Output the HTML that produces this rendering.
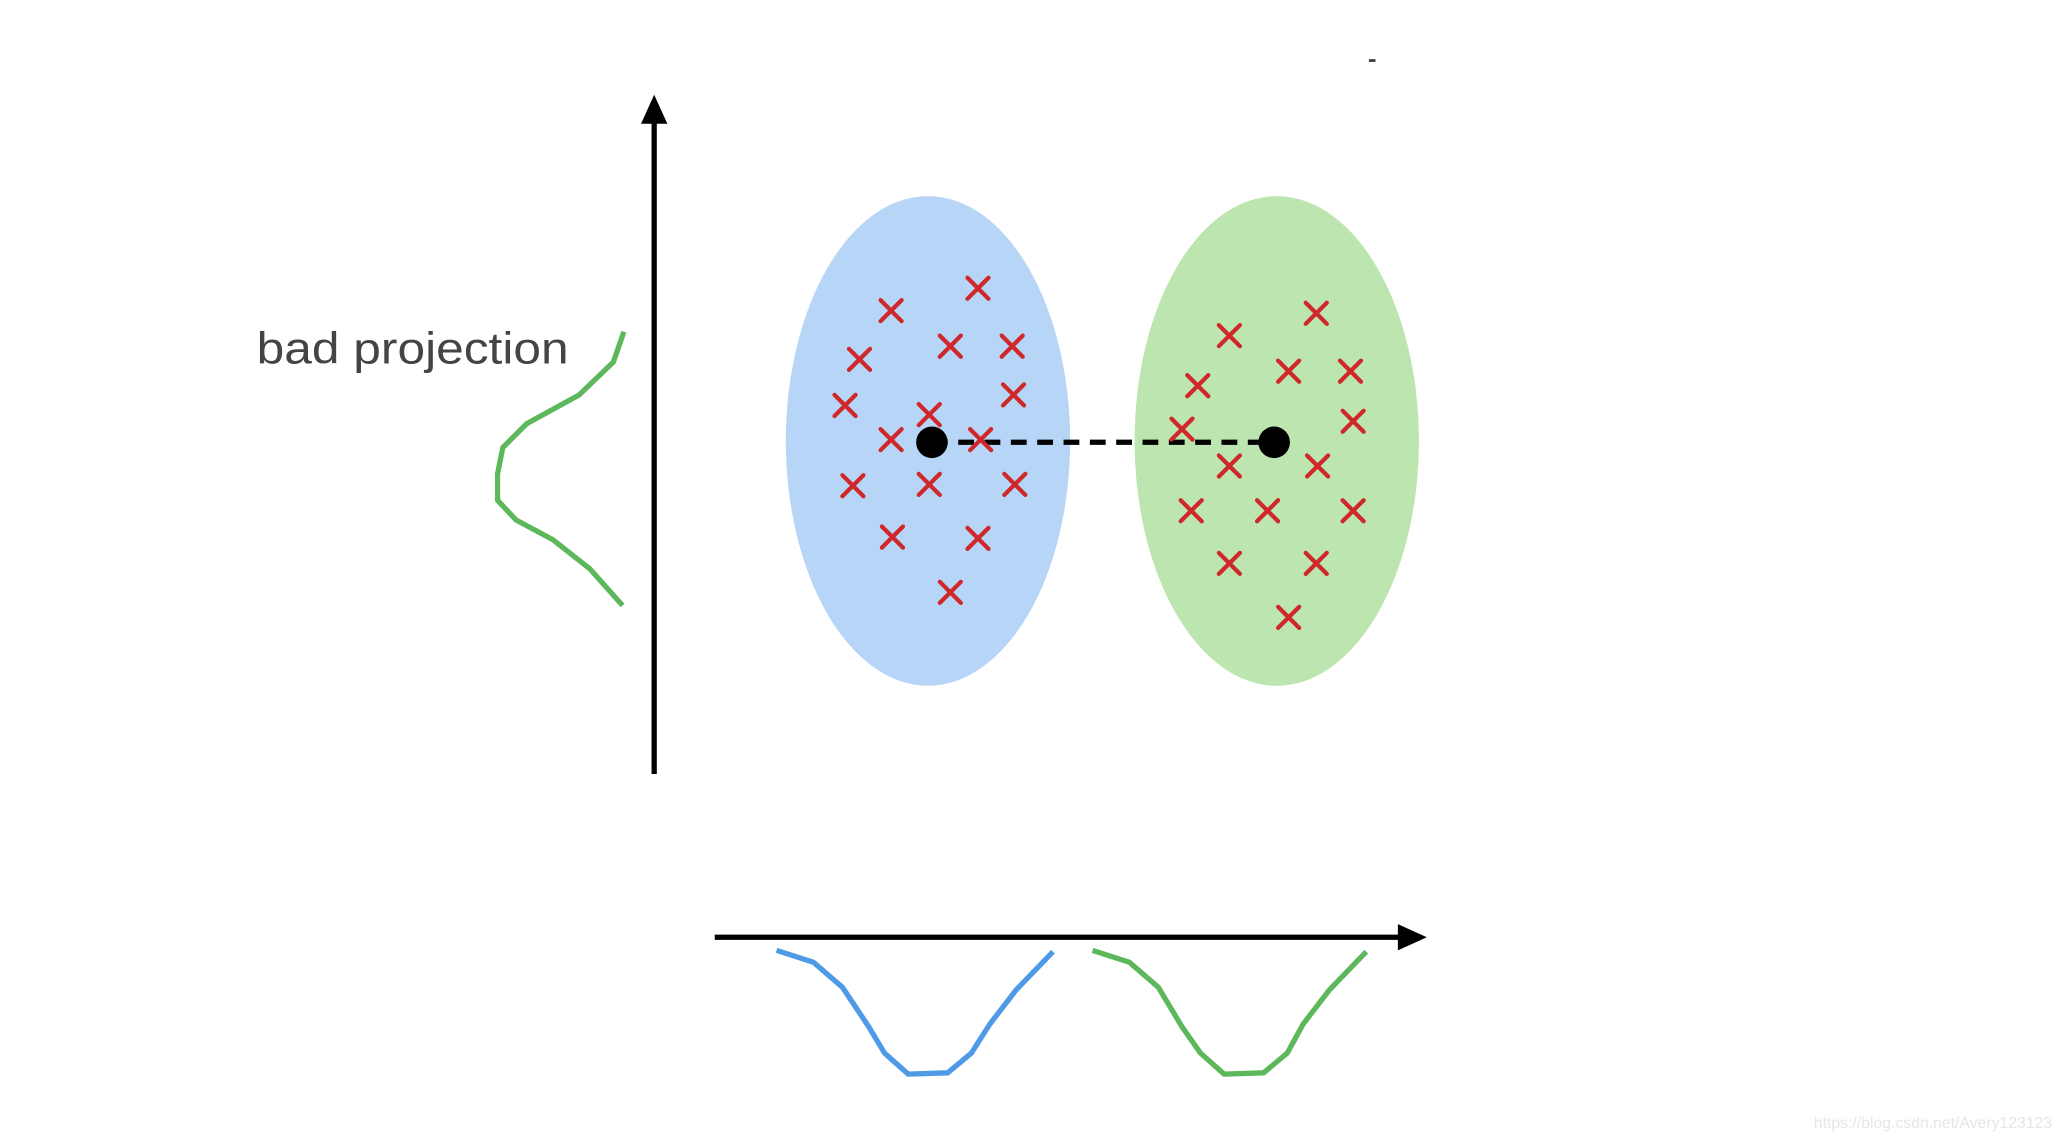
<!DOCTYPE html>
<html><head><meta charset="utf-8"><style>
html,body{margin:0;padding:0;background:#fff;}
svg{display:block;}
</style></head><body>
<svg width="2056" height="1136" viewBox="0 0 1562 863" preserveAspectRatio="none" xmlns="http://www.w3.org/2000/svg">
<defs>
<g id="x"><path d="M-8,-8 L8,8 M8,-8 L-8,8" stroke="#d0282a" stroke-width="3.2" stroke-linecap="round"/></g>
</defs>
<rect width="1562" height="863" fill="#fff"/>
<ellipse cx="705" cy="335" rx="108" ry="186" fill="#b7d5f7"/>
<ellipse cx="970" cy="335" rx="108" ry="186" fill="#bde5b0"/>
<line x1="497" y1="90" x2="497" y2="588" stroke="#000" stroke-width="4"/>
<polygon points="497,72 487,94 507,94" fill="#000"/>
<line x1="543" y1="712" x2="1065" y2="712" stroke="#000" stroke-width="4"/>
<polygon points="1084,712 1062,702 1062,722" fill="#000"/>
<line x1="708" y1="336" x2="968" y2="336" stroke="#000" stroke-width="4" stroke-dasharray="12,8"/>
<g>
<use href="#x" x="677" y="236"/><use href="#x" x="743" y="219"/><use href="#x" x="653" y="273"/><use href="#x" x="722" y="263"/><use href="#x" x="769" y="263"/><use href="#x" x="642" y="308"/><use href="#x" x="770" y="300"/><use href="#x" x="706" y="315"/><use href="#x" x="677" y="334"/><use href="#x" x="745" y="334"/><use href="#x" x="648" y="369"/><use href="#x" x="706" y="368"/><use href="#x" x="771" y="368"/><use href="#x" x="678" y="408"/><use href="#x" x="743" y="409"/><use href="#x" x="722" y="450"/>
<use href="#x" x="934" y="255"/><use href="#x" x="1000" y="238"/><use href="#x" x="910" y="293"/><use href="#x" x="979" y="282"/><use href="#x" x="1026" y="282"/><use href="#x" x="898" y="326"/><use href="#x" x="1028" y="320"/><use href="#x" x="934" y="354"/><use href="#x" x="1001" y="354"/><use href="#x" x="905" y="388"/><use href="#x" x="963" y="388"/><use href="#x" x="1028" y="388"/><use href="#x" x="934" y="428"/><use href="#x" x="1000" y="428"/><use href="#x" x="979" y="469"/>
</g>
<circle cx="708" cy="336" r="12" fill="#000"/>
<circle cx="968" cy="336" r="12" fill="#000"/>
<polyline points="474,252 466,275 440,300 400,322 382,340 378,360 378,380 392,395 420,410 448,432 473,460" fill="none" stroke="#5cb85a" stroke-width="4" stroke-linejoin="round"/>
<polyline points="590,722 618,731 640,750 660,780 672,800 690,816 720,815 738,800 752,778 772,752 800,723" fill="none" stroke="#4e9ae6" stroke-width="4" stroke-linejoin="round"/>
<polyline points="830,722 858,731 880,750 898,780 912,800 930,816 960,815 978,800 990,778 1010,752 1038,723" fill="none" stroke="#5cb85a" stroke-width="4" stroke-linejoin="round"/>
<text x="195" y="276" font-family="Liberation Sans, sans-serif" font-size="34" fill="#444" textLength="237" lengthAdjust="spacingAndGlyphs">bad projection</text>
<text x="1378" y="857" font-family="Liberation Sans, sans-serif" font-size="12" fill="#e6e6e6">https://blog.csdn.net/Avery123123</text>
<rect x="1040" y="45" width="5" height="2" fill="#333"/>
</svg>
</body></html>
